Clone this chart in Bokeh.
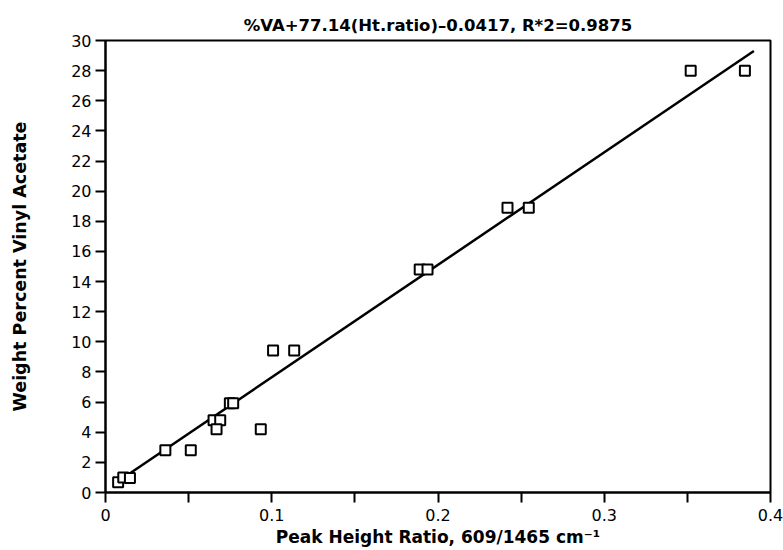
from bokeh.plotting import figure
from bokeh.models import FixedTicker, Range1d
from bokeh.embed import file_html
from bokeh.resources import INLINE

title_text = "%VA+77.14(Ht.ratio)\u20130.0417, R*2=0.9875"
x_label = "Peak Height Ratio, 609/1465 cm\u207b\u00b9"
y_label = "Weight Percent Vinyl Acetate"

ratio = [0.0076, 0.0107, 0.0147, 0.036, 0.0513, 0.065, 0.069, 0.0668, 0.0934,
         0.0748, 0.0768, 0.1008, 0.1135, 0.189, 0.1937, 0.2418, 0.2546, 0.352, 0.3846]
wt_pct = [0.68, 1.0, 0.97, 2.8, 2.8, 4.8, 4.8, 4.2, 4.2,
          5.93, 5.93, 9.42, 9.42, 14.8, 14.8, 18.9, 18.9, 28.0, 28.0]

fit_x = [0.005, 0.39]
fit_y = [0.55, 29.3]

x_major = [0, 0.1, 0.2, 0.3, 0.4]
x_minor = [0.05, 0.15, 0.25, 0.35]
y_major = list(range(0, 31, 2))

FONT = "DejaVu Sans"

p = figure(width=783, height=550, output_backend="svg", toolbar_location=None,
           x_range=Range1d(0, 0.4), y_range=Range1d(0, 30),
           min_border_left=105, min_border_right=13, min_border_top=40, min_border_bottom=58)

p.title.text = title_text
p.title.align = "center"
p.title.vertical_align = "middle"
p.title.text_font = FONT
p.title.text_font_size = "16.5px"
p.title.text_font_style = "bold"
p.title.text_color = "black"

p.grid.visible = False
p.outline_line_color = "black"
p.outline_line_width = 2
p.outline_line_alpha = 1

p.xaxis.ticker = FixedTicker(ticks=x_major, minor_ticks=x_minor)
p.yaxis.ticker = FixedTicker(ticks=y_major, minor_ticks=[])
p.xaxis.major_label_overrides = {0: "0"}

for ax in (p.xaxis, p.yaxis):
    ax.axis_line_color = "black"
    ax.axis_line_width = 2
    ax.major_tick_line_color = "black"
    ax.major_tick_line_width = 2
    ax.major_tick_in = 0
    ax.major_tick_out = 10
    ax.minor_tick_in = 0
    ax.minor_tick_line_width = 2
    ax.minor_tick_line_color = "black"
    ax.major_label_text_font = FONT
    ax.major_label_text_font_size = "16px"
    ax.major_label_text_color = "black"
    ax.axis_label_text_font = FONT
    ax.axis_label_text_font_size = "17px"
    ax.axis_label_text_font_style = "bold"
    ax.axis_label_text_color = "black"

p.yaxis.axis_label_text_font_size = "17.5px"
p.xaxis.minor_tick_out = 10
p.yaxis.minor_tick_out = 0
p.xaxis.major_label_standoff = 6
p.yaxis.major_label_standoff = 4
p.xaxis.axis_label = x_label
p.yaxis.axis_label = y_label
p.xaxis.axis_label_standoff = 3
p.yaxis.axis_label_standoff = 38

p.line(fit_x, fit_y, line_color="black", line_width=2.5)
p.scatter(ratio, wt_pct, marker="square", size=10, fill_color="white",
          line_color="black", line_width=2)

open("out.html", "w").write(file_html(p, INLINE))
